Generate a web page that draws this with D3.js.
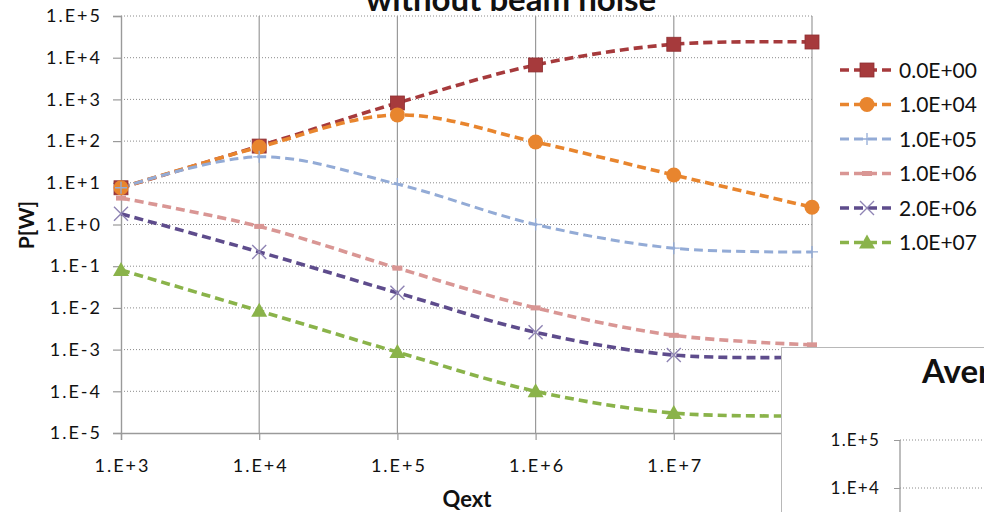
<!DOCTYPE html>
<html>
<head>
<meta charset="utf-8">
<script src="https://cdn.jsdelivr.net/npm/d3@7/dist/d3.min.js"></script>
<style>
  html, body { margin: 0; padding: 0; background: #fff; }
  svg { display: block; font-family: Lato, "Open Sans", sans-serif; }
</style>
</head>
<body>
<svg id="chart" width="984" height="512"></svg>
<script>
// Qext sweep (x) and output power P[W] for each beam-noise setting
const qext = [1e3, 1e4, 1e5, 1e6, 1e7, 1e8];
const xTickLabels = ["1.E+3", "1.E+4", "1.E+5", "1.E+6", "1.E+7", ""];
const yTickValues = [1e-5, 1e-4, 1e-3, 1e-2, 1e-1, 1e0, 1e1, 1e2, 1e3, 1e4, 1e5];
const yTickLabels = ["1.E-5", "1.E-4", "1.E-3", "1.E-2", "1.E-1", "1.E+0", "1.E+1", "1.E+2", "1.E+3", "1.E+4", "1.E+5"];

const seriesNames = ["0.0E+00", "1.0E+04", "1.0E+05", "1.0E+06", "2.0E+06", "1.0E+07"];
const p0e0 = [7.6, 76, 820, 6700, 21000, 23800];
const p1e4 = [7.6, 72, 425, 95, 15.4, 2.6];
const p1e5 = [7.6, 42, 9.3, 1.0, 0.27, 0.22];
const p1e6 = [4.3, 0.9, 0.09, 0.01, 0.0022, 0.0013];
const p2e6 = [1.8, 0.22, 0.023, 0.0026, 0.00074, 0.00066];
const p1e7 = [0.081, 0.0085, 0.00087, 0.0001, 0.00003, 0.000026];
const seriesValues = [p0e0, p1e4, p1e5, p1e6, p2e6, p1e7];
const seriesColors = ["#a63a3c", "#e8852e", "#93abd6", "#d99694", "#5e4c8c", "#8ab34a"];
const seriesMarkers = ["square", "circle", "plus", "dash", "cross", "triangle"];

// Second chart peeking in at the lower right
const insetTitle = "Aver";
const insetTickValues = [1e4, 1e5];
const insetTickLabels = ["1.E+4", "1.E+5"];

const svg = d3.select("#chart");
const x = d3.scaleLog().domain([1e3, 1e8]).range([121, 812]);
const y = d3.scaleLog().domain([1e-5, 1e5]).range([433, 16]);

const grid = svg.append("g");
// dotted horizontal gridlines
grid.selectAll("line.h").data(yTickValues.slice(1)).join("line")
  .attr("x1", 121).attr("x2", 812)
  .attr("y1", d => y(d)).attr("y2", d => y(d))
  .attr("stroke", "#8a8a8a").attr("stroke-width", 1).attr("stroke-dasharray", "1,2");
// solid vertical gridlines
grid.selectAll("line.v").data(qext.slice(1)).join("line")
  .attr("x1", d => x(d)).attr("x2", d => x(d))
  .attr("y1", y(1e5)).attr("y2", y(1e-5))
  .attr("stroke", "#9a9a9a").attr("stroke-width", 1.2);

// axes
const yAxis = d3.axisLeft(y).tickValues(yTickValues)
  .tickFormat((d, i) => yTickLabels[i]).tickSize(8).tickPadding(11);
const gy = svg.append("g").attr("transform", "translate(121,0)").call(yAxis);
const xAxis = d3.axisBottom(x).tickValues(qext)
  .tickFormat((d, i) => xTickLabels[i]).tickSize(7).tickPadding(19);
const gx = svg.append("g").attr("transform", "translate(0,433)").call(xAxis);
[gy, gx].forEach(g => {
  g.attr("font-size", 18).attr("font-family", "Lato, sans-serif");
  g.select(".domain").attr("stroke", "#9a9a9a").attr("stroke-width", 1.4);
  g.selectAll(".tick line").attr("stroke", "#9a9a9a").attr("stroke-width", 1.2);
  g.selectAll(".tick text").attr("fill", "#111").attr("letter-spacing", "2px");
});
// centre the spaced-out x labels back on their ticks
gx.selectAll(".tick text").attr("dx", 1);

// series lines
const line = d3.line()
  .x((d, i) => x(qext[i]))
  .y(d => y(d))
  .curve(d3.curveCatmullRom.alpha(0.5));

const plot = svg.append("g");
seriesValues.forEach((vals, si) => {
  plot.append("path")
    .attr("d", line(vals))
    .attr("fill", "none")
    .attr("stroke", seriesColors[si])
    .attr("stroke-width", si === 2 ? 3 : 3.6)
    .attr("stroke-dasharray", "9,5");
});

function drawMarker(g, type, cx, cy, color) {
  if (type === "square") {
    g.append("rect").attr("x", cx - 7).attr("y", cy - 7).attr("width", 14).attr("height", 14)
      .attr("fill", color).attr("stroke", "#8e3033").attr("stroke-width", 0.8);
  } else if (type === "circle") {
    g.append("circle").attr("cx", cx).attr("cy", cy).attr("r", 7.5).attr("fill", color);
  } else if (type === "plus") {
    g.append("path").attr("d", `M${cx - 6},${cy}H${cx + 6}M${cx},${cy - 6}V${cy + 6}`)
      .attr("stroke", color).attr("stroke-width", 1.3);
  } else if (type === "dash") {
    g.append("rect").attr("x", cx - 5).attr("y", cy - 2.5).attr("width", 10).attr("height", 5)
      .attr("fill", color);
  } else if (type === "cross") {
    g.append("path").attr("d", `M${cx - 7},${cy - 7}L${cx + 7},${cy + 7}M${cx - 7},${cy + 7}L${cx + 7},${cy - 7}`)
      .attr("stroke", "#8f84b4").attr("stroke-width", 1.4);
  } else if (type === "triangle") {
    g.append("path").attr("d", `M${cx},${cy - 8}L${cx + 8},${cy + 6}L${cx - 8},${cy + 6}Z`)
      .attr("fill", color);
  }
}

seriesValues.forEach((vals, si) => {
  const g = plot.append("g");
  vals.forEach((v, i) => drawMarker(g, seriesMarkers[si], x(qext[i]), y(v), seriesColors[si]));
});

// titles
svg.append("text").attr("x", 511).attr("y", 11).attr("text-anchor", "middle")
  .style("font-size", "33px").style("font-weight", "bold").attr("fill", "#111")
  .text("without beam noise");
svg.append("text").attr("x", 467).attr("y", 507).attr("text-anchor", "middle")
  .style("font-size", "22px").style("font-weight", "bold").attr("fill", "#111")
  .text("Qext");
svg.append("text").attr("transform", "translate(34,225) rotate(-90)").attr("text-anchor", "middle")
  .style("font-size", "21px").style("font-weight", "bold").attr("fill", "#111")
  .text("P[W]");

// legend
const legend = svg.append("g");
seriesNames.forEach((name, si) => {
  const ly = 70 + si * 34.5;
  const g = legend.append("g");
  g.append("line").attr("x1", 840).attr("x2", 894).attr("y1", ly).attr("y2", ly)
    .attr("stroke", seriesColors[si]).attr("stroke-width", si === 2 ? 3 : 3.6)
    .attr("stroke-dasharray", "9,5");
  drawMarker(g, seriesMarkers[si], 867, ly, seriesColors[si]);
  g.append("text").attr("x", 899).attr("y", ly + 7.5)
    .style("font-size", "21px").attr("fill", "#111").text(name);
});

// inset chart panel on top
const inset = svg.append("g");
inset.append("rect").attr("x", 781.5).attr("y", 347.5).attr("width", 220).attr("height", 180)
  .attr("fill", "#fff").attr("stroke", "#b8b8b8").attr("stroke-width", 1);
const yi = d3.scaleLog().domain([1e4, 1e5]).range([488, 440]);
inset.selectAll("line.g").data(insetTickValues).join("line")
  .attr("x1", 900).attr("x2", 984).attr("y1", d => yi(d)).attr("y2", d => yi(d))
  .attr("stroke", "#8a8a8a").attr("stroke-dasharray", "1,2");
const gi = inset.append("g").attr("transform", "translate(900,0)")
  .call(d3.axisLeft(yi).tickValues(insetTickValues)
    .tickFormat((d, i) => insetTickLabels[i]).tickSize(6).tickSizeOuter(0).tickPadding(14));
gi.attr("font-size", 17).attr("font-family", "Lato, sans-serif");
gi.select(".domain").attr("d", "M0,440V512").attr("stroke", "#9a9a9a").attr("stroke-width", 1.3);
gi.selectAll(".tick line").attr("stroke", "#9a9a9a");
gi.selectAll(".tick text").attr("fill", "#111").attr("letter-spacing", "1.2px");
inset.append("text").attr("x", 922).attr("y", 383)
  .style("font-size", "33px").style("font-weight", "bold").attr("fill", "#111")
  .text(insetTitle);
</script>
</body>
</html>
